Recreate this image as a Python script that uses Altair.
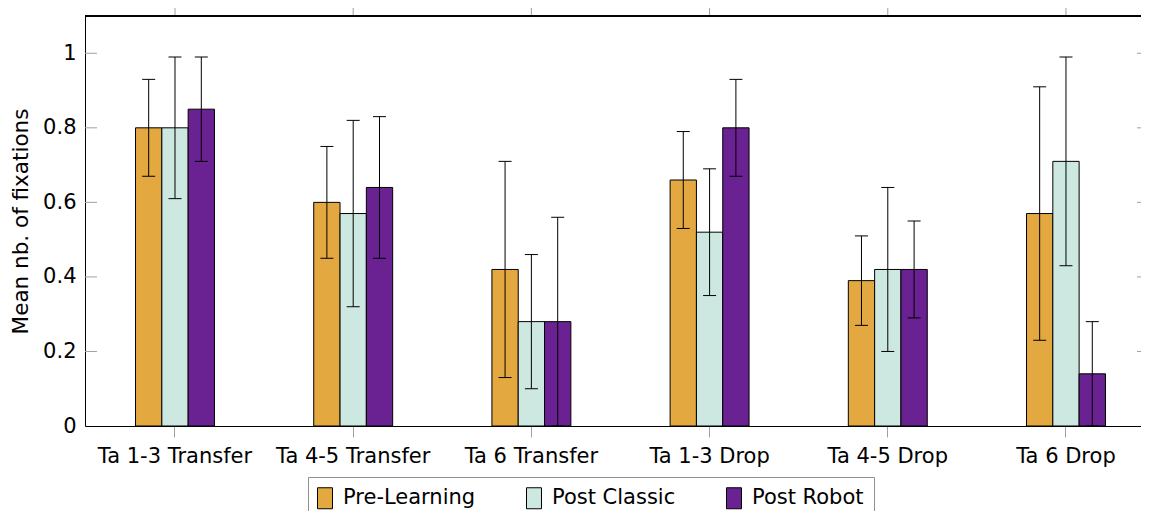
import altair as alt
import pandas as pd

categories = ["Ta 1-3 Transfer", "Ta 4-5 Transfer", "Ta 6 Transfer",
              "Ta 1-3 Drop", "Ta 4-5 Drop", "Ta 6 Drop"]
series = ["Pre-Learning", "Post Classic", "Post Robot"]
pre_mean = [0.80, 0.60, 0.42, 0.66, 0.39, 0.57]
pre_err = [0.13, 0.15, 0.29, 0.13, 0.12, 0.34]
classic_mean = [0.80, 0.57, 0.28, 0.52, 0.42, 0.71]
classic_err = [0.19, 0.25, 0.18, 0.17, 0.22, 0.28]
robot_mean = [0.85, 0.64, 0.28, 0.80, 0.42, 0.14]
robot_err = [0.14, 0.19, 0.28, 0.13, 0.13, 0.14]
y_ticks = [0, 0.2, 0.4, 0.6, 0.8, 1.0]
colors = ["#E3A83F", "#CDE8E0", "#6A2191"]

W, H = 1056, 410
FONT = "DejaVu Sans"
GRAY = "#a0a0a0"

rows = []
for s, means, errs in zip(series, [pre_mean, classic_mean, robot_mean],
                          [pre_err, classic_err, robot_err]):
    for c, m, e in zip(categories, means, errs):
        rows.append({"category": c, "series": s, "mean": m,
                     "lo": m - e, "hi": m + e})
df = pd.DataFrame(rows)
cat_df = pd.DataFrame({"category": categories})
ytick_df = pd.DataFrame({"v": y_ticks[1:]})

xscale = alt.Scale(domain=categories, paddingInner=0.557, paddingOuter=0.2415, align=0.587)
yscale = alt.Scale(domain=[0, 1.1], nice=False, zero=True)

xaxis = alt.Axis(title=None, labelFont=FONT, labelFontSize=21, labelColor="black",
                 labelAngle=0, labelPadding=8, tickColor=GRAY, tickSize=11,
                 domainColor="black", domainWidth=1, grid=False)
yaxis = alt.Axis(title="Mean nb. of fixations", titleFont=FONT, titleFontSize=21.5,
                 titleFontWeight="normal", titleColor="black", titlePadding=10,
                 values=y_ticks, format="~g", labelFont=FONT, labelFontSize=21,
                 labelColor="black", labelPadding=9, ticks=False, grid=False,
                 domainColor="black", domainWidth=1)

legend = alt.Legend(title=None, orient="none", legendX=223, legendY=461,
                    direction="horizontal", strokeColor="#909090", fillColor="white",
                    padding=10, columnPadding=48, labelOffset=3,
                    labelFont=FONT, labelFontSize=21, labelColor="black",
                    symbolType="M-1.095,-1L0.333,-1L0.333,1L-1.095,1Z", symbolSize=441,
                    symbolStrokeColor="black", symbolStrokeWidth=1, symbolOpacity=1)

base = alt.Chart(df).encode(
    x=alt.X("category:N", sort=categories, scale=xscale, axis=xaxis),
    xOffset=alt.XOffset("series:N", sort=series, scale=alt.Scale(domain=series, paddingInner=0, paddingOuter=0)),
)

bars = base.mark_bar(stroke="black", strokeWidth=1, opacity=1).encode(
    y=alt.Y("mean:Q", scale=yscale, axis=yaxis),
    color=alt.Color("series:N", sort=series,
                    scale=alt.Scale(domain=series, range=colors), legend=legend),
)

err = base.mark_rule(color="black", strokeWidth=1).encode(
    y=alt.Y("lo:Q", scale=yscale), y2="hi:Q")
cap_lo = base.mark_tick(color="black", thickness=1, size=13, opacity=1).encode(
    y=alt.Y("lo:Q", scale=yscale))
cap_hi = base.mark_tick(color="black", thickness=1, size=13, opacity=1).encode(
    y=alt.Y("hi:Q", scale=yscale))

top_ticks = alt.Chart(cat_df).mark_rule(color=GRAY, strokeWidth=1).encode(
    x=alt.X("category:N", sort=categories, scale=xscale),
    y=alt.value(-8), y2=alt.value(0))

top_line = alt.Chart(cat_df).mark_rule(color="black", strokeWidth=1).encode(
    x=alt.value(0), x2=alt.value(W), y=alt.value(0))

left_ticks = alt.Chart(ytick_df).mark_rule(color=GRAY, strokeWidth=1).encode(
    y=alt.Y("v:Q", scale=yscale), x=alt.value(0), x2=alt.value(12))
right_ticks = alt.Chart(ytick_df).mark_rule(color=GRAY, strokeWidth=1).encode(
    y=alt.Y("v:Q", scale=yscale), x=alt.value(W - 4), x2=alt.value(W))

chart = alt.layer(bars, err, cap_lo, cap_hi, left_ticks, right_ticks, top_ticks, top_line).properties(
    width=W, height=H,
    autosize=alt.AutoSizeParams(type="none"),
    padding={"left": 77, "top": 8, "right": 0, "bottom": 85},
).configure(font=FONT, background="white").configure_view(stroke=None)

chart.save("out.html", embed_options={"renderer": "svg", "actions": False})
